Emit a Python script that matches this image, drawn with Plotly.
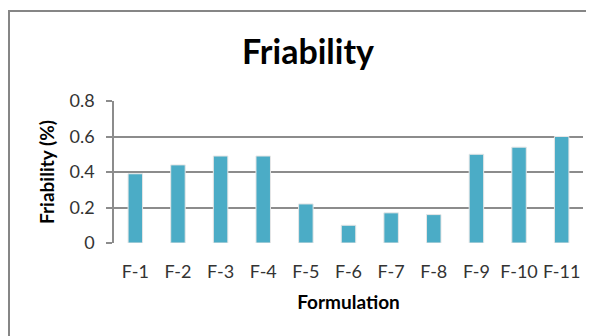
import plotly.graph_objects as go

categories = ["F-1", "F-2", "F-3", "F-4", "F-5", "F-6", "F-7", "F-8", "F-9", "F-10", "F-11"]
friability = [0.39, 0.44, 0.49, 0.49, 0.22, 0.10, 0.17, 0.16, 0.50, 0.54, 0.60]
y_ticks = [0, 0.2, 0.4, 0.6, 0.8]
y_tick_labels = ["0", "0.2", "0.4", "0.6", "0.8"]

OFF = 8  # page body margin
W, H = 594 - OFF, 336 - OFF
L, R, T, B = 114 - OFF, 11, 101 - OFF, 93
pw, ph = W - L - R, H - T - B

FONT = "Lato"
GRID = "#8c8c8c"

fig = go.Figure(go.Bar(
    x=categories, y=friability,
    marker=dict(color="#4BACC6", line=dict(color="#e6e6e6", width=1)),
    width=0.34,
))

fig.update_layout(
    width=W, height=H,
    margin=dict(l=L, r=R, t=T, b=B, pad=0),
    paper_bgcolor="white", plot_bgcolor="white",
    showlegend=False,
    font=dict(family=FONT, color="#333333"),
    title=dict(text="<b>Friability</b>", font=dict(family=FONT, size=34, color="black"),
               xref="container", x=(308 - OFF) / W, xanchor="center",
               yref="container", y=1 - (52 - OFF) / H, yanchor="middle"),
    xaxis=dict(
        showgrid=False, showline=False, ticks="", zeroline=False,
        tickfont=dict(size=18, color="#333333"),
        ticklabelstandoff=16,
        title=dict(text="<b>Formulation</b>", font=dict(size=19, color="black"), standoff=14),
    ),
    yaxis=dict(
        range=[0, 0.8], tickvals=y_ticks, ticktext=y_tick_labels,
        showgrid=True, gridcolor=GRID, gridwidth=1.5,
        showline=True, linecolor=GRID, linewidth=1.5,
        ticks="outside", ticklen=6, tickcolor=GRID, tickwidth=1.5,
        zeroline=False,
        tickfont=dict(size=18, color="#333333"),
        ticklabelstandoff=8,
        title=dict(text="<b>Friability (%)</b>", font=dict(size=19, color="black"), standoff=10),
    ),
)

# outer chart border (extends past the visible window on right and bottom)
fig.add_shape(type="rect", xref="paper", yref="paper",
              x0=(9 - OFF - L) / pw, x1=(W + 20 - L) / pw,
              y0=-(H + 20 - (T + ph)) / ph, y1=((T + ph) - (11 - OFF)) / ph,
              line=dict(color="#868686", width=2), fillcolor="rgba(0,0,0,0)", layer="below")

fig.write_html("out.html")
